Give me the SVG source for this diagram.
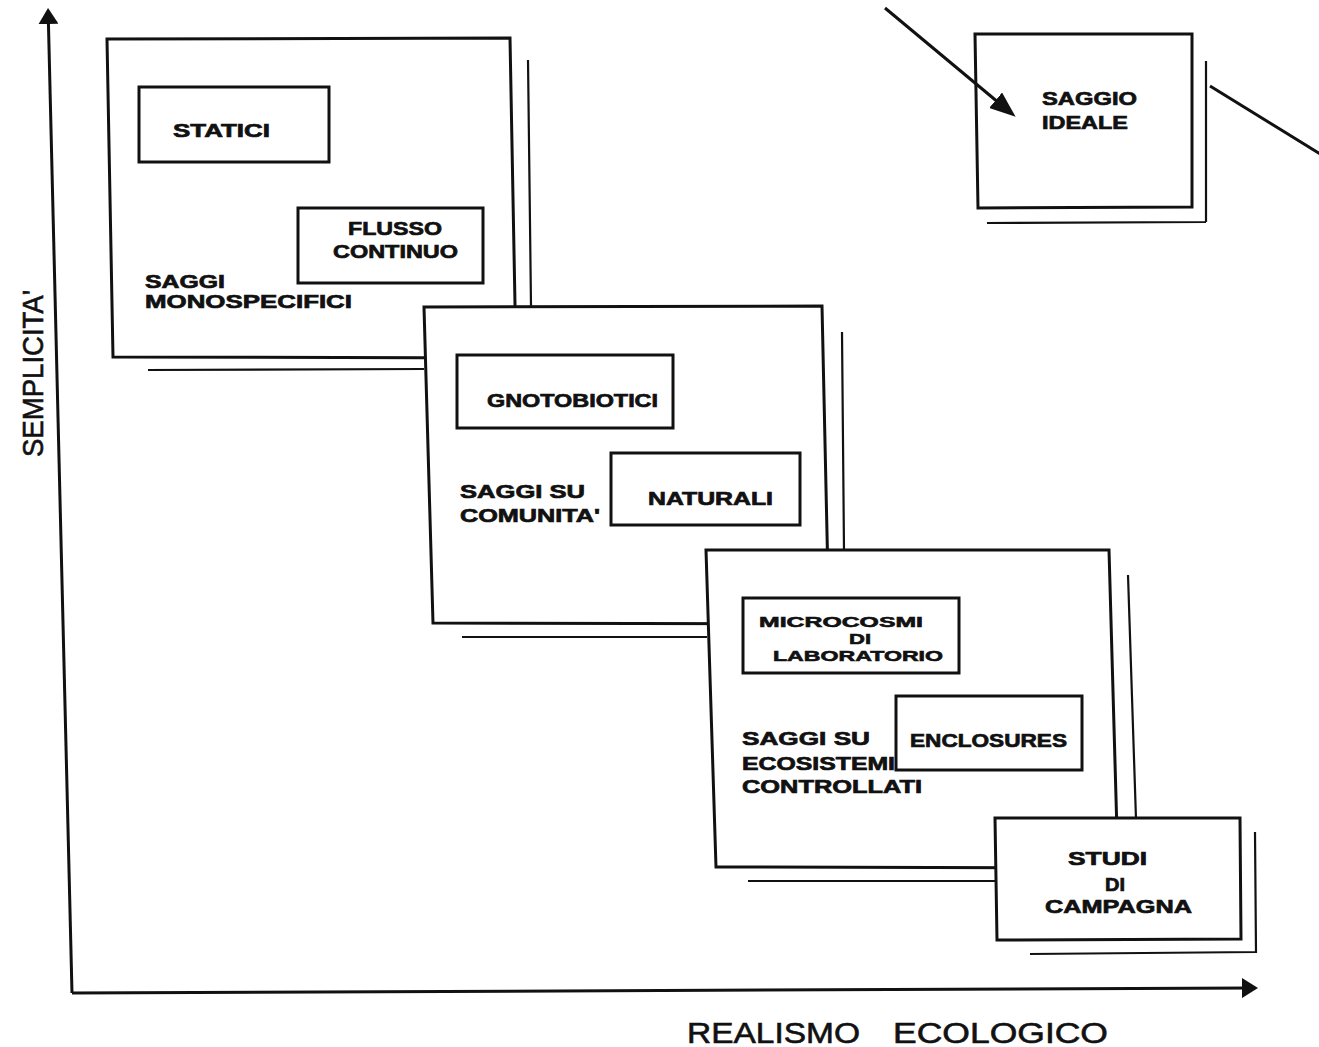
<svg xmlns="http://www.w3.org/2000/svg" width="1319" height="1047" viewBox="0 0 1319 1047">
  <defs>
    <marker id="axisHead" viewBox="0 0 16 20" markerWidth="16" markerHeight="20" refX="10" refY="10" orient="auto" markerUnits="userSpaceOnUse">
      <path d="M0,0 L16,10 L0,20 z" fill="#111"/>
    </marker>
    <marker id="pointer" viewBox="0 0 26 20" markerWidth="26" markerHeight="20" refX="20" refY="10" orient="auto" markerUnits="userSpaceOnUse">
      <path d="M0,0 L26,10 L0,20 z" fill="#111"/>
    </marker>
    <style>
      .frame { fill: #fff; stroke: #111; stroke-width: 3; stroke-linejoin: miter; }
      .inner { fill: #fff; stroke: #111; stroke-width: 3; }
      .shadow { fill: none; stroke: #111; stroke-width: 2.2; }
      .axis { fill: none; stroke: #111; stroke-width: 3; }
      .lbl { font-family: "Liberation Sans", Arial, sans-serif; font-weight: bold; font-size: 19px; fill: #111; stroke: #111; stroke-width: 0.7; }
      .small { font-size: 15px; stroke-width: 0.6; }
      .axlbl { font-family: "Liberation Sans", Arial, sans-serif; font-size: 29px; fill: #111; stroke: #111; stroke-width: 0.6; }
    </style>
  </defs>

  <rect x="0" y="0" width="1319" height="1047" fill="#fff"/>

  <!-- axis titles -->
  <g id="axis-y-label">
    <text class="axlbl" transform="translate(43,457) rotate(-90)" x="0" y="0" textLength="167" lengthAdjust="spacingAndGlyphs">SEMPLICITA'</text>
  </g>
  <g id="axis-x-label">
    <text class="axlbl" y="1043"><tspan x="687" textLength="173" lengthAdjust="spacingAndGlyphs">REALISMO</tspan> <tspan x="893" textLength="215" lengthAdjust="spacingAndGlyphs">ECOLOGICO</tspan></text>
  </g>

  <!-- single-species tests -->
  <g id="saggi-monospecifici">
    <polygon class="frame" points="107,39 510,38 516,358 113,357"/>
    <path class="shadow" d="M528,60 L531,306 M148,370 L424,369"/>
    <text class="lbl"><tspan x="145" y="288" textLength="80" lengthAdjust="spacingAndGlyphs">SAGGI</tspan><tspan x="145" y="308" textLength="207" lengthAdjust="spacingAndGlyphs">MONOSPECIFICI</tspan></text>
  </g>
  <g id="statici">
    <rect class="inner" x="139" y="87" width="190" height="75"/>
    <text class="lbl" x="173" y="137" textLength="97" lengthAdjust="spacingAndGlyphs">STATICI</text>
  </g>
  <g id="flusso-continuo">
    <rect class="inner" x="298" y="208" width="185" height="75"/>
    <text class="lbl"><tspan x="348" y="235" textLength="94" lengthAdjust="spacingAndGlyphs">FLUSSO</tspan><tspan x="333" y="258" textLength="125" lengthAdjust="spacingAndGlyphs">CONTINUO</tspan></text>
  </g>

  <!-- community tests -->
  <g id="saggi-su-comunita">
    <polygon class="frame" points="424,307 822,306 829,624 433,623"/>
    <path class="shadow" d="M842,332 L844,551 M462,637 L707,637"/>
    <text class="lbl"><tspan x="460" y="498" textLength="125" lengthAdjust="spacingAndGlyphs">SAGGI SU</tspan><tspan x="460" y="522" textLength="140" lengthAdjust="spacingAndGlyphs">COMUNITA'</tspan></text>
  </g>
  <g id="gnotobiotici">
    <rect class="inner" x="457" y="355" width="216" height="73"/>
    <text class="lbl" x="487" y="407" textLength="171" lengthAdjust="spacingAndGlyphs">GNOTOBIOTICI</text>
  </g>
  <g id="naturali">
    <rect class="inner" x="611" y="453" width="189" height="72"/>
    <text class="lbl" x="648" y="505" textLength="125" lengthAdjust="spacingAndGlyphs">NATURALI</text>
  </g>

  <!-- controlled ecosystem tests -->
  <g id="saggi-su-ecosistemi-controllati">
    <polygon class="frame" points="706,550 1109,550 1118,868 716,867"/>
    <path class="shadow" d="M1128,575 L1136,819 M748,881 L996,881"/>
    <text class="lbl"><tspan x="742" y="745" textLength="128" lengthAdjust="spacingAndGlyphs">SAGGI  SU</tspan><tspan x="742" y="770" textLength="153" lengthAdjust="spacingAndGlyphs">ECOSISTEMI</tspan><tspan x="742" y="793" textLength="180" lengthAdjust="spacingAndGlyphs">CONTROLLATI</tspan></text>
  </g>
  <g id="microcosmi-di-laboratorio">
    <rect class="inner" x="743" y="598" width="216" height="75"/>
    <text class="lbl small"><tspan x="759" y="627" textLength="164" lengthAdjust="spacingAndGlyphs">MICROCOSMI</tspan><tspan x="849" y="644" textLength="22" lengthAdjust="spacingAndGlyphs">DI</tspan><tspan x="773" y="661" textLength="170" lengthAdjust="spacingAndGlyphs">LABORATORIO</tspan></text>
  </g>
  <g id="enclosures">
    <rect class="inner" x="896" y="696" width="186" height="74"/>
    <text class="lbl" x="910" y="747" textLength="157" lengthAdjust="spacingAndGlyphs">ENCLOSURES</text>
  </g>

  <!-- field studies -->
  <g id="studi-di-campagna">
    <polygon class="frame" points="995,818 1240,818 1241,939 997,940"/>
    <path class="shadow" d="M1255,832 L1256,953 M1030,954 L1257,952"/>
    <text class="lbl"><tspan x="1068" y="865" textLength="79" lengthAdjust="spacingAndGlyphs">STUDI</tspan><tspan x="1105" y="891" textLength="20" lengthAdjust="spacingAndGlyphs">DI</tspan><tspan x="1045" y="913" textLength="147" lengthAdjust="spacingAndGlyphs">CAMPAGNA</tspan></text>
  </g>

  <!-- ideal test -->
  <g id="saggio-ideale">
    <polygon class="frame" points="975,34 1192,34 1192,207 978,208"/>
    <path class="shadow" d="M1206,61 L1206,222 M987,223 L1206,222"/>
    <text class="lbl"><tspan x="1042" y="105" textLength="95" lengthAdjust="spacingAndGlyphs">SAGGIO</tspan><tspan x="1042" y="129" textLength="86" lengthAdjust="spacingAndGlyphs">IDEALE</tspan></text>
  </g>

  <!-- axes and arrows, drawn last so they sit above the box fills -->
  <g id="connectors">
    <path class="axis" d="M72,993 L48.2,14" marker-end="url(#axisHead)"/>
    <path class="axis" d="M72,993 L1252,988" marker-end="url(#axisHead)"/>
    <path class="axis" d="M885,8 L1011,113" marker-end="url(#pointer)" stroke-width="2.6"/>
    <path class="axis" d="M1210,86 L1325,157" stroke-width="2.6"/>
  </g>
</svg>
